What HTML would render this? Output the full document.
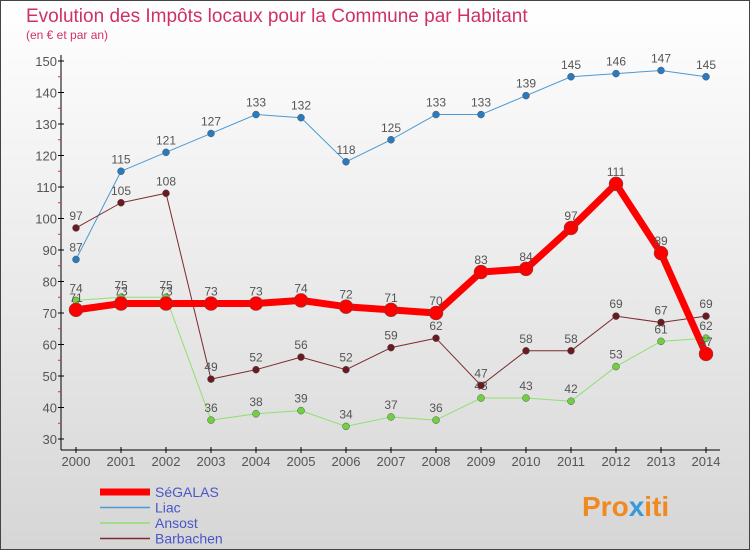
<!DOCTYPE html>
<html><head><meta charset="utf-8"><style>
html,body{margin:0;padding:0}
body{width:750px;height:550px;overflow:hidden;font-family:"Liberation Sans",sans-serif}
</style></head><body>
<svg id="chart" width="750" height="550" xmlns="http://www.w3.org/2000/svg">
<defs><linearGradient id="bg" x1="0" y1="0" x2="0" y2="1"><stop offset="0" stop-color="#ffffff"/><stop offset="1" stop-color="#d6d6d6"/></linearGradient></defs>
<rect x="0.5" y="0.5" width="749" height="549" fill="url(#bg)" stroke="#444"/>
<text x="26" y="22" font-size="19" fill="#d0306a">Evolution des Impôts locaux pour la Commune par Habitant</text>
<text x="26" y="39" font-size="12" fill="#d0306a">(en € et par an)</text>
<g id="axes"></g>
<g id="series"></g>
<g id="legend"></g>
<text x="582" y="516" font-size="28" font-weight="bold" fill="#f08a20">Pro<tspan fill="#3a9ad9">x</tspan>iti</text>
</svg>
<script>
const years=[2000,2001,2002,2003,2004,2005,2006,2007,2008,2009,2010,2011,2012,2013,2014];
const segalas=[71,73,73,73,73,74,72,71,70,83,84,97,111,89,57];
const liac=[87,115,121,127,133,132,118,125,133,133,139,145,146,147,145];
const ansost=[74,75,75,36,38,39,34,37,36,43,43,42,53,61,62];
const barbachen=[97,105,108,49,52,56,52,59,62,47,58,58,69,67,69];
const yTicks=[30,40,50,60,70,80,90,100,110,120,130,140,150];
const NS="http://www.w3.org/2000/svg";
const x=i=>76+i*45;
const y=v=>439-(v-30)*3.15;
function mk(t,a,p){const e=document.createElementNS(NS,t);for(const k in a)e.setAttribute(k,a[k]);p.appendChild(e);return e;}
const ax=document.getElementById('axes');
let l=mk('line',{x1:61,y1:55,x2:61,y2:450,stroke:'#000'},ax);


l=mk('line',{x1:61,y1:450,x2:720,y2:450,stroke:'#000'},ax);


yTicks.forEach(v=>{
 mk('line',{x1:58,y1:y(v),x2:64,y2:y(v),stroke:'#000'},ax);
 if(v<150) mk('line',{x1:58,y1:y(v+5),x2:61,y2:y(v+5),stroke:'#e03030'},ax);
 const t=mk('text',{x:57,y:y(v)+5,'font-size':13,fill:'#555','text-anchor':'end'},ax);
 t.textContent=v;
 
 
});
years.forEach((yr,i)=>{
 mk('line',{x1:x(i),y1:447,x2:x(i),y2:453,stroke:'#000'},ax);
 const t=mk('text',{x:x(i),y:466,'font-size':13,fill:'#555','text-anchor':'middle'},ax);
 t.textContent=yr;
 
 
});
const sg=document.getElementById('series');
function draw(name,data,color,w,r,dot){
 const g=mk('g',{},sg);
 
 
 const p=mk('polyline',{points:data.map((v,i)=>x(i)+','+y(v)).join(' '),fill:'none',stroke:color,'stroke-width':w,'stroke-linejoin':'round'},g);
 
 
 data.forEach((v,i)=>{
  const c=mk('circle',{cx:x(i),cy:y(v),r:r,fill:dot,stroke:'#555','stroke-width':0.5},g);
  
  
  const t=mk('text',{x:x(i),y:y(v)-8,'font-size':12,fill:'#555','text-anchor':'middle'},g);
  t.textContent=v;
  
  
 });
}
draw('liac',liac,'#4a9ad4',1,3.5,'#2a7ac0');
draw('ansost',ansost,'#90e070',1,3.5,'#70d040');
draw('barbachen',barbachen,'#7a2a30',1,3.5,'#6a1a20');
draw('segalas',segalas,'#ff0000',7,7,'#ff0000');
const lg=document.getElementById('legend');
const items=[['SéGALAS','#ff0000',7],['Liac','#4a9ad4',1.5],['Ansost','#90e070',1.5],['Barbachen','#7a2a30',1.5]];
items.forEach((it,i)=>{
 const yy=492+i*15.5;
 const g=mk('g',{},lg);
 
 
 mk('line',{x1:100,y1:yy,x2:150,y2:yy,stroke:it[1],'stroke-width':it[2]},g);
 const t=mk('text',{x:155,y:yy+5,'font-size':14,fill:'#4a56c8'},g);
 t.textContent=it[0];
});
</script>
</body></html>
